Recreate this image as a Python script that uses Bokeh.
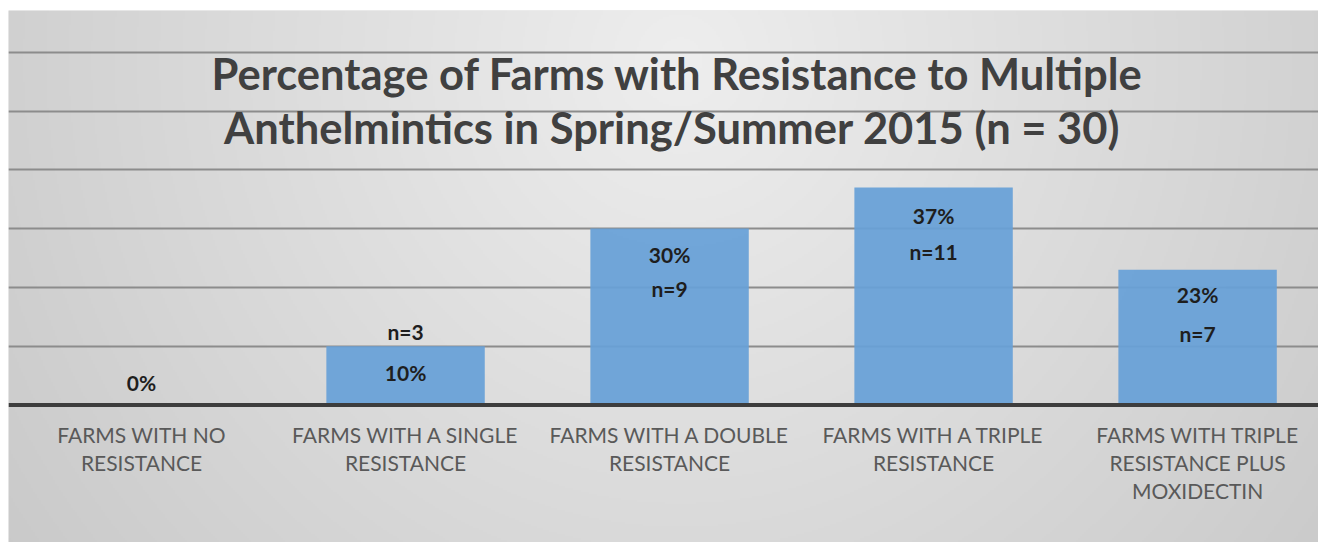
import numpy as np
from bokeh.plotting import figure
from bokeh.models import ColumnDataSource, Range1d, FixedTicker, Span, Label
from bokeh.core.properties import value
from bokeh.embed import file_html
from bokeh.resources import INLINE

# --- data -------------------------------------------------------------
categories = [
    "FARMS WITH NO\nRESISTANCE",
    "FARMS WITH A SINGLE\nRESISTANCE",
    "FARMS WITH A DOUBLE\nRESISTANCE",
    "FARMS WITH A TRIPLE\nRESISTANCE",
    "FARMS WITH TRIPLE\nRESISTANCE PLUS\nMOXIDECTIN",
]
percent = [0, 10, 30, 37, 23]          # % of the 30 farms
farm_counts = [0, 3, 9, 11, 7]         # number of farms per group
grid_ticks = [10, 20, 30, 40, 50, 60]
title_lines = [
    "Percentage of Farms with Resistance to Multiple",
    "Anthelmintics  in Spring/Summer 2015 (n = 30)",
]

# label placement (pixels, positive = downwards)
pct_offsets = [-22, 26, 26, 28, 25]
count_offsets = [0, -15, 60, 64, 64]

# --- figure -----------------------------------------------------------
W_FIG, H_FIG = 1318, 542
x_lo, x_hi = -0.504, 4.458
y_lo, y_hi = -23.4, 67.1

p = figure(
    width=W_FIG, height=H_FIG,
    x_range=Range1d(x_lo, x_hi), y_range=Range1d(y_lo, y_hi),
    x_axis_location=None, y_axis_location=None,
    toolbar_location=None, output_backend="svg",
    min_border_left=8, min_border_right=0, min_border_top=10, min_border_bottom=0,
    outline_line_color=None, background_fill_color="#dcdcdc",
    border_fill_color="white",
)

# soft radial grey gradient behind everything
GH, GW = 266, 655
yy, xx = np.mgrid[0:GH, 0:GW]
px = 8 + (xx + 0.5) * (1310 / GW)
py = H_FIG - (yy + 0.5) * (532 / GH)
r = np.sqrt(((px - 680) / 680) ** 2 + ((py - 60) / 700) ** 2)
g = np.clip(238 - 30 * r, 0, 255).astype(np.uint32)
bg = (np.uint32(255) << 24) | (g << 16) | (g << 8) | g
p.image_rgba(image=[bg], x=x_lo, y=y_lo, dw=x_hi - x_lo, dh=y_hi - y_lo, level="image")

p.xgrid.visible = False
p.ygrid.ticker = FixedTicker(ticks=grid_ticks)
p.ygrid.grid_line_color = "#8c8c8c"
p.ygrid.grid_line_width = 2

idx = list(range(len(categories)))
src = ColumnDataSource(dict(
    x=idx,
    top=percent,
    pct=[f"{v}%" for v in percent],
    cnt=[f"n={c}" if c else "" for c in farm_counts],
    pct_off=pct_offsets,
    cnt_off=count_offsets,
    cat=categories,
    zero=[0] * len(idx),
))

p.vbar(x="x", top="top", width=0.6, source=src,
       fill_color="#67a0d7", fill_alpha=0.93, line_color=None)

p.add_layout(Span(location=0, dimension="width", line_color="#3d3d3d", line_width=4))

label_kw = dict(text_font=value("Lato"), text_font_style="bold", text_font_size="21px",
                text_color="#1e1e1e", text_align="center", text_baseline="middle")
p.text(x="x", y="top", text="pct", y_offset="pct_off", source=src, **label_kw)
p.text(x="x", y="top", text="cnt", y_offset="cnt_off", source=src, **label_kw)

p.text(x="x", y="zero", text="cat", y_offset=17, source=src,
       text_font=value("Lato"), text_font_size="21px", text_color="#595959",
       text_align="center", text_baseline="top", text_line_height=1.125)

for line, y in zip(title_lines, [56.5, 47.2]):
    p.add_layout(Label(x=2.03, y=y, text=line, text_align="center",
                       text_baseline="alphabetic", text_font="Lato",
                       text_font_style="bold", text_font_size="43.5px",
                       text_color="#404040"))

open("out.html", "w").write(file_html(p, INLINE))
